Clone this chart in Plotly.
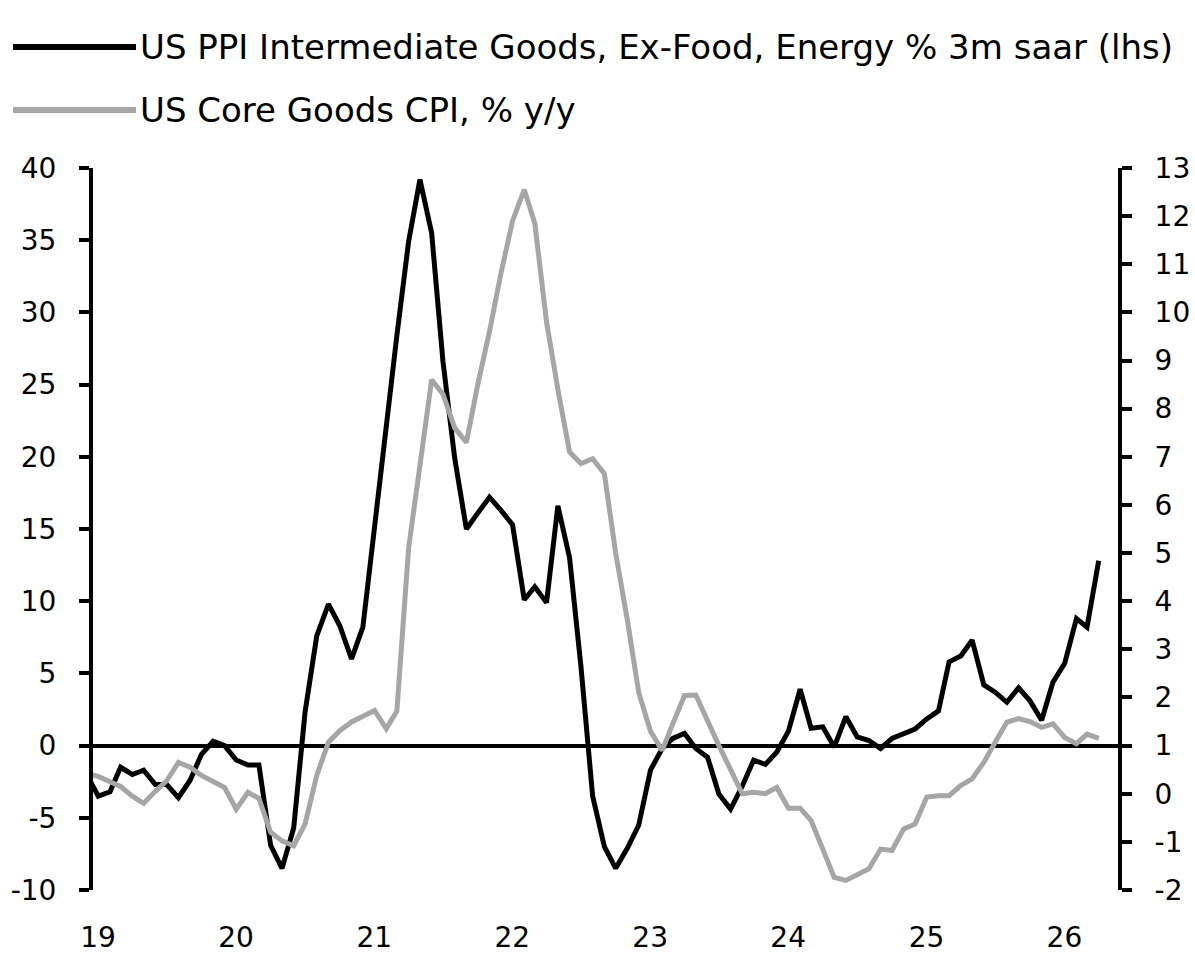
import pandas as pd
import plotly.graph_objects as go

# Monthly observations, Dec 2018 .. Apr 2026 (plotted mid-month)
months = pd.date_range("2018-12-01", "2026-04-01", freq="MS") + pd.Timedelta(days=14)

ppi_intermediate = [
    -2.0,
    -3.5, -3.2, -1.5, -2.0, -1.7, -2.7, -2.7, -3.6, -2.4, -0.6, 0.3, 0.0,      # 2019
    -1.0, -1.35, -1.35, -6.9, -8.5, -5.7, 2.3, 7.6, 9.8, 8.3, 6.0, 8.2,        # 2020
    15.3, 22.4, 28.4, 34.9, 39.2, 35.5, 26.6, 19.9, 15.0, 16.1, 17.2, 16.3,    # 2021
    15.3, 10.1, 11.0, 9.9, 16.6, 13.0, 5.5, -3.5, -7.0, -8.5, -7.1, -5.5,      # 2022
    -1.7, -0.2, 0.5, 0.85, -0.2, -0.8, -3.35, -4.4, -2.8, -1.0, -1.3, -0.46,   # 2023
    1.0, 3.9, 1.2, 1.3, -0.1, 2.0, 0.6, 0.35, -0.2, 0.5, 0.8, 1.15,            # 2024
    1.85, 2.4, 5.8, 6.2, 7.3, 4.2, 3.7, 3.0, 4.0, 3.1, 1.75, 4.4,              # 2025
    5.7, 8.8, 8.2, 12.8,                                                       # 2026
]

core_goods_cpi = [
    0.42,
    0.36, 0.25, 0.15, -0.05, -0.2, 0.05, 0.27, 0.65, 0.55, 0.38, 0.24, 0.13,   # 2019
    -0.32, 0.03, -0.1, -0.8, -0.98, -1.08, -0.63, 0.38, 1.07, 1.31, 1.49, 1.62, # 2020
    1.73, 1.35, 1.72, 5.1, 6.9, 8.6, 8.3, 7.6, 7.3, 8.5, 9.6, 10.8,            # 2021
    11.9, 12.55, 11.85, 9.8, 8.4, 7.1, 6.86, 6.96, 6.65, 5.0, 3.6, 2.1,        # 2022
    1.3, 0.9, 1.45, 2.04, 2.05, 1.5, 1.0, 0.5, 0.0, 0.03, 0.0, 0.13,           # 2023
    -0.3, -0.3, -0.56, -1.15, -1.74, -1.8, -1.67, -1.56, -1.15, -1.18, -0.73, -0.63,  # 2024
    -0.07, -0.04, -0.04, 0.17, 0.31, 0.65, 1.07, 1.49, 1.56, 1.5, 1.38, 1.45,  # 2025
    1.17, 1.04, 1.24, 1.15,                                                    # 2026
]

series_names = [
    "US PPI Intermediate Goods, Ex-Food, Energy % 3m saar (lhs)",
    "US Core Goods CPI, % y/y",
]

year_ticks = ["2019-01-01", "2020-01-01", "2021-01-01", "2022-01-01",
              "2023-01-01", "2024-01-01", "2025-01-01", "2026-01-01"]
year_labels = ["19", "20", "21", "22", "23", "24", "25", "26"]

left_ticks = [-10, -5, 0, 5, 10, 15, 20, 25, 30, 35, 40]
right_ticks = [-2, -1, 0, 1, 2, 3, 4, 5, 6, 7, 8, 9, 10, 11, 12, 13]

BLACK = "#000000"
GREY = "#A6A6A6"
FONT = "DejaVu Sans"
TICK_SIZE = 28
LEG_SIZE = 34

x_range = ["2019-01-01", "2026-06-05"]

fig = go.Figure()
fig.add_trace(go.Scatter(x=months, y=ppi_intermediate, mode="lines",
                         line=dict(color=BLACK, width=5), name=series_names[0],
                         yaxis="y", showlegend=False, cliponaxis=True))
fig.add_trace(go.Scatter(x=months, y=core_goods_cpi, mode="lines",
                         line=dict(color=GREY, width=5), name=series_names[1],
                         yaxis="y2", showlegend=False, cliponaxis=True))

W, H = 1195, 962
ml, mr, mt, mb = 93, 77, 168, 72
pw, ph = W - ml - mr, H - mt - mb


def px_x(px):
    return (px - ml) / pw


def px_y(py):
    return (H - mb - py) / ph


shapes = []
annotations = []
for name, col, py in zip(series_names, [BLACK, GREY], [47, 110]):
    shapes.append(dict(type="line", xref="paper", yref="paper",
                       x0=px_x(13), x1=px_x(136), y0=px_y(py), y1=px_y(py),
                       line=dict(color=col, width=6)))
    annotations.append(dict(xref="paper", yref="paper", x=px_x(138), y=px_y(py),
                            xanchor="left", yanchor="middle", showarrow=False,
                            text=name, font=dict(family=FONT, size=LEG_SIZE, color="#000")))

fig.update_layout(
    width=W, height=H,
    margin=dict(l=ml, r=mr, t=mt, b=mb, autoexpand=False),
    paper_bgcolor="white", plot_bgcolor="white",
    showlegend=False,
    font=dict(family=FONT, size=TICK_SIZE, color="#000"),
    shapes=shapes,
    annotations=annotations,
    xaxis=dict(
        type="date", range=x_range, automargin=False,
        tickvals=year_ticks, ticktext=year_labels,
        showgrid=False, zeroline=False, showline=False,
        ticks="outside", ticklen=22, tickcolor="rgba(0,0,0,0)",
        ticklabelshift=5,
        tickfont=dict(family=FONT, size=TICK_SIZE),
    ),
    xaxis2=dict(
        type="date", range=x_range, overlaying="x", anchor="free", position=0.2,
        tickvals=year_ticks, showticklabels=False, automargin=False,
        showgrid=False, zeroline=False, showline=False,
        ticks="outside", ticklen=9, tickwidth=4, tickcolor=BLACK,
    ),
    yaxis=dict(
        range=[-10, 40], tickvals=left_ticks, automargin=False,
        ticktext=[str(v) for v in left_ticks],
        showgrid=False, zeroline=True, zerolinecolor=BLACK, zerolinewidth=4,
        showline=True, linecolor=BLACK, linewidth=4,
        ticks="outside", ticklen=10, tickwidth=4, tickcolor=BLACK,
        ticklabelstandoff=17,
        tickfont=dict(family=FONT, size=TICK_SIZE),
    ),
    yaxis2=dict(
        range=[-2, 13], tickvals=right_ticks, automargin=False,
        ticktext=[str(v) for v in right_ticks],
        overlaying="y", side="right", anchor="x",
        showgrid=False, zeroline=False,
        showline=True, linecolor=BLACK, linewidth=4,
        ticks="outside", ticklen=10, tickwidth=4, tickcolor=BLACK,
        ticklabelstandoff=17,
        tickfont=dict(family=FONT, size=TICK_SIZE),
    ),
)

fig.write_html("out.html")
